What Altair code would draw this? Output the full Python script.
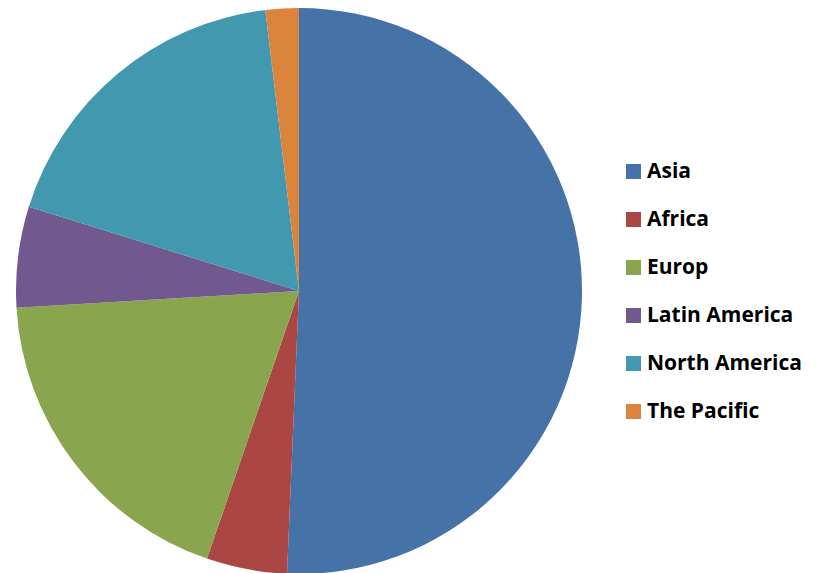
import altair as alt
import pandas as pd

regions = ["Asia", "Africa", "Europ", "Latin America", "North America", "The Pacific"]
shares = [50.7, 4.6, 18.8, 5.75, 18.3, 1.9]
colors = ["#4572A7", "#AA4643", "#89A54E", "#71588F", "#4198AF", "#DB843D"]

df = pd.DataFrame({"region": regions, "share": shares, "idx": list(range(len(regions)))})

chart = alt.Chart(df).mark_arc(outerRadius=283, stroke=None).encode(
    theta=alt.Theta("share:Q", stack=True),
    order=alt.Order("idx:Q"),
    x=alt.value(299),
    y=alt.value(291),
    color=alt.Color(
        "region:N",
        scale=alt.Scale(domain=regions, range=colors),
        sort=regions,
        legend=alt.Legend(
            title=None,
            orient="none",
            legendX=623,
            legendY=161,
            symbolType="square",
            symbolSize=225,
            symbolStrokeWidth=0,
            labelFont="Open Sans",
            labelFontWeight="bold",
            labelFontSize=21,
            labelColor="#000000",
            rowPadding=26,
            labelOffset=3,
        ),
    ),
).properties(
    width=820,
    height=573,
    autosize=alt.AutoSizeParams(type="none"),
    padding=0,
).configure_view(stroke=None)

chart.save("out.html", embed_options={"renderer": "svg", "actions": False})
